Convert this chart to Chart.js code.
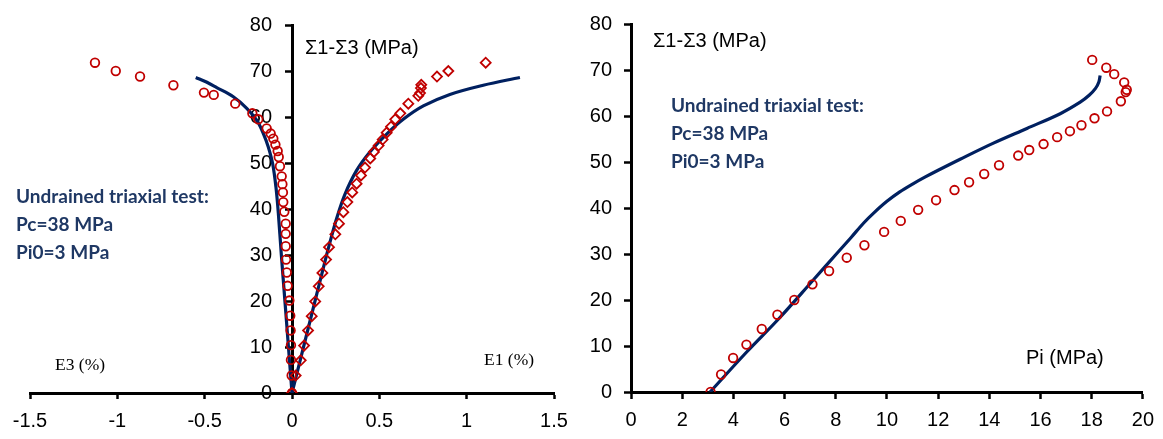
<!DOCTYPE html>
<html>
<head>
<meta charset="utf-8">
<title>Undrained triaxial test – Pc=38 MPa, Pi0=3 MPa</title>
<script src="https://cdn.jsdelivr.net/npm/chart.js@4/dist/chart.umd.min.js"></script>
<style>
  html, body { margin: 0; padding: 0; background: #fff; }
  #wrap { position: relative; width: 1163px; height: 439px; overflow: hidden; background: #fff; }
  canvas { position: absolute; top: 0; }
  .lbl { position: absolute; white-space: nowrap; line-height: 1; color: #000; }
  .sans { font-family: "Liberation Sans", Arial, sans-serif; font-size: 20px; }
  .serif { font-family: "Liberation Serif", "Times New Roman", serif; font-size: 17.5px; }
  .note { position: absolute; white-space: nowrap; color: #1F3864; font-family: Lato, "Open Sans", sans-serif;
          font-weight: 700; font-size: 19px; line-height: 28px; }
</style>
</head>
<body>
<div id="wrap">
  <canvas id="strainChart" width="580" height="439" style="left:0"></canvas>
  <canvas id="poreChart" width="583" height="439" style="left:580px"></canvas>

  <div class="lbl sans" style="left:305px; top:37px;">Σ1-Σ3 (MPa)</div>
  <div class="lbl serif" style="left:55px; top:356px;">E3 (%)</div>
  <div class="lbl serif" style="left:484px; top:351px;">E1 (%)</div>
  <div class="note" style="left:16px; top:182px;">Undrained triaxial test:<br>Pc=38 MPa<br>Pi0=3 MPa</div>

  <div class="lbl sans" style="left:653px; top:30px;">Σ1-Σ3 (MPa)</div>
  <div class="lbl sans" style="left:1026px; top:347px;">Pi (MPa)</div>
  <div class="note" style="left:671px; top:91px;">Undrained triaxial test:<br>Pc=38 MPa<br>Pi0=3 MPa</div>
</div>

<script>
// ---- Measured data: lateral strain E3 (%) vs deviatoric stress (MPa)
const e3Strain = [-1.128, -1.009, -0.870, -0.679, -0.504, -0.448, -0.325, -0.227, -0.193, -0.145,
                  -0.122, -0.107, -0.095, -0.082, -0.076, -0.069, -0.059, -0.055, -0.052, -0.050,
                  -0.044, -0.036, -0.036, -0.036, -0.034, -0.030, -0.025, -0.015, -0.010, -0.008,
                  -0.006, -0.006, -0.002, 0];
const e3Stress = [71.8, 70.0, 68.8, 66.9, 65.3, 64.8, 62.9, 60.8, 59.5, 57.5,
                  56.4, 55.3, 54.0, 52.6, 51.3, 49.3, 47.1, 45.4, 43.6, 41.5,
                  39.4, 36.8, 34.6, 31.9, 29.0, 26.2, 23.3, 20.1, 16.8, 13.6,
                  10.4, 7.2, 3.8, 0];

// ---- Measured data: axial strain E1 (%) vs deviatoric stress (MPa)
const e1Strain = [0, 0.021, 0.050, 0.069, 0.092, 0.113, 0.133, 0.153, 0.174, 0.195,
                  0.212, 0.248, 0.269, 0.294, 0.317, 0.345, 0.370, 0.395, 0.418, 0.448,
                  0.469, 0.496, 0.519, 0.542, 0.567, 0.591, 0.620, 0.666, 0.723, 0.733,
                  0.738, 0.740, 0.830, 0.895, 1.109];
const e1Stress = [0, 3.8, 7.1, 10.3, 13.6, 16.7, 19.9, 23.2, 26.1, 29.0,
                  31.7, 34.5, 36.8, 39.3, 41.5, 43.6, 45.5, 47.3, 49.0, 51.0,
                  52.4, 53.8, 55.1, 56.6, 57.9, 59.5, 60.8, 62.9, 64.6, 65.2,
                  66.3, 67.0, 68.8, 70.0, 71.8];

// ---- Model response: E3 branch
const e3ModelStrain = [-0.551, -0.490, -0.431, -0.336, -0.259, -0.202, -0.164, -0.136, -0.111, -0.092,
                       -0.078, -0.061, -0.0405, -0.0203, 0];
const e3ModelStress = [68.6, 67.6, 66.4, 64.4, 61.9, 59.3, 56.4, 53.5, 49.9, 44.8,
                       39.0, 30.0, 20.0, 10.0, 0];

// ---- Model response: E1 branch
const e1ModelStrain = [0, 0.095, 0.190, 0.2175, 0.256, 0.303, 0.370, 0.446, 0.542, 0.637,
                       0.752, 0.904, 1.095, 1.305];
const e1ModelStress = [0, 14.4, 28.8, 32.8, 38.0, 43.2, 48.4, 52.4, 56.3, 59.5,
                       62.4, 64.9, 66.9, 68.6];

// ---- Measured data: pore pressure Pi (MPa) vs deviatoric stress (MPa)
const piMeasured = [3.11, 3.52, 3.99, 4.51, 5.11, 5.72, 6.38, 7.09, 7.74, 8.43,
                    9.12, 9.89, 10.54, 11.22, 11.92, 12.64, 13.21, 13.80, 14.38, 15.13,
                    15.56, 16.12, 16.65, 17.15, 17.60, 18.11, 18.60, 19.14, 19.33, 19.37,
                    19.27, 18.88, 18.57, 18.02];
const piMeasuredStress = [0, 3.8, 7.4, 10.3, 13.7, 16.8, 20.0, 23.4, 26.3, 29.2,
                          31.9, 34.8, 37.2, 39.6, 41.7, 43.9, 45.6, 47.4, 49.3, 51.4,
                          52.6, 53.9, 55.4, 56.7, 58.0, 59.5, 61.0, 63.2, 65.2, 65.7,
                          67.3, 69.1, 70.5, 72.2];

// ---- Model response: pore pressure
const piModel = [3.09, 4.52, 5.82, 7.13, 8.04, 8.60, 9.10, 9.50, 10.0, 10.5,
                 11.0, 11.5, 12.0, 12.86, 14.16, 15.47, 16.77, 17.55, 17.90, 18.15,
                 18.28, 18.33];
const piModelStress = [0, 8.7, 16.2, 24.4, 30.1, 33.6, 36.8, 39.0, 41.45, 43.5,
                       45.2, 46.75, 48.2, 50.6, 54.1, 57.3, 60.5, 63.0, 64.5, 66.0,
                       67.4, 68.8];

// ---- Tick values
const strainTicks = [-1.5, -1, -0.5, 0, 0.5, 1, 1.5];
const stressTicks = [0, 10, 20, 30, 40, 50, 60, 70, 80];
const piTicks = [0, 2, 4, 6, 8, 10, 12, 14, 16, 18, 20];

// ---- Styling
const NAVY = '#002060';
const RED = '#C00000';
const TICK_FONT = { family: '"Liberation Sans", Arial, sans-serif', size: 20 };
const EM_SPACE = '\u2003'; // keeps centred-axis labels clear of the axis line

const pts = (xs, ys) => xs.map((x, i) => ({ x, y: ys[i] }));
const fixedTicks = values => scale => { scale.ticks = values.map(v => ({ value: v })); };

function modelLine(data) {
  return { type: 'scatter', data, showLine: true, borderColor: NAVY, borderWidth: 3.2,
           pointRadius: 0, tension: 0.35, fill: false, order: 2 };
}
function markers(data, style) {
  return { type: 'scatter', data, showLine: false, pointStyle: style,
           pointRadius: style === 'circle' ? 4.3 : 5, pointBorderWidth: 1.8,
           pointBorderColor: RED, pointBackgroundColor: 'rgba(0,0,0,0)', order: 1 };
}
function axisStyle(tickLength, padding, suffix = '') {
  return {
    grid: { drawOnChartArea: false, drawTicks: true, tickLength, tickColor: '#000', tickWidth: 2.5, color: '#000' },
    border: { display: true, color: '#000', width: 3 },
    ticks: { color: '#000', font: TICK_FONT, padding, maxRotation: 0, autoSkip: false,
             callback: v => String(v) + suffix }
  };
}
const common = {
  responsive: false, animation: false, events: [],
  plugins: { legend: { display: false }, tooltip: { enabled: false } }
};

// ---- Left: stress vs strain, y-axis crossing at zero strain
new Chart(document.getElementById('strainChart'), {
  type: 'scatter',
  data: {
    datasets: [
      markers(pts(e3Strain, e3Stress), 'circle'),
      markers(pts(e1Strain, e1Stress), 'rectRot'),
      modelLine(pts(e3ModelStrain, e3ModelStress)),
      modelLine(pts(e1ModelStrain, e1ModelStress))
    ]
  },
  options: {
    ...common,
    layout: { padding: { left: 30, right: 26, top: 25, bottom: 0 } },
    scales: {
      x: { type: 'linear', min: -1.5, max: 1.5, afterBuildTicks: fixedTicks(strainTicks),
           afterFit: s => { s.height = 46; }, ...axisStyle(6, 10) },
      y: { type: 'linear', min: 0, max: 80, position: { x: 0 }, afterBuildTicks: fixedTicks(stressTicks),
           ...axisStyle(6, 0, EM_SPACE) }
    }
  }
});

// ---- Right: stress vs pore pressure
new Chart(document.getElementById('poreChart'), {
  type: 'scatter',
  data: {
    datasets: [
      markers(pts(piMeasured, piMeasuredStress), 'circle'),
      modelLine(pts(piModel, piModelStress))
    ]
  },
  options: {
    ...common,
    layout: { padding: { left: 0, right: 20, top: 19, bottom: 0 } },
    scales: {
      x: { type: 'linear', min: 0, max: 20, afterBuildTicks: fixedTicks(piTicks),
           afterFit: s => { s.height = 47; }, ...axisStyle(7, 9) },
      y: { type: 'linear', min: 0, max: 80, position: 'left', afterBuildTicks: fixedTicks(stressTicks),
           afterFit: s => { s.width = 51; }, ...axisStyle(7, 12) }
    }
  }
});
</script>
</body>
</html>
